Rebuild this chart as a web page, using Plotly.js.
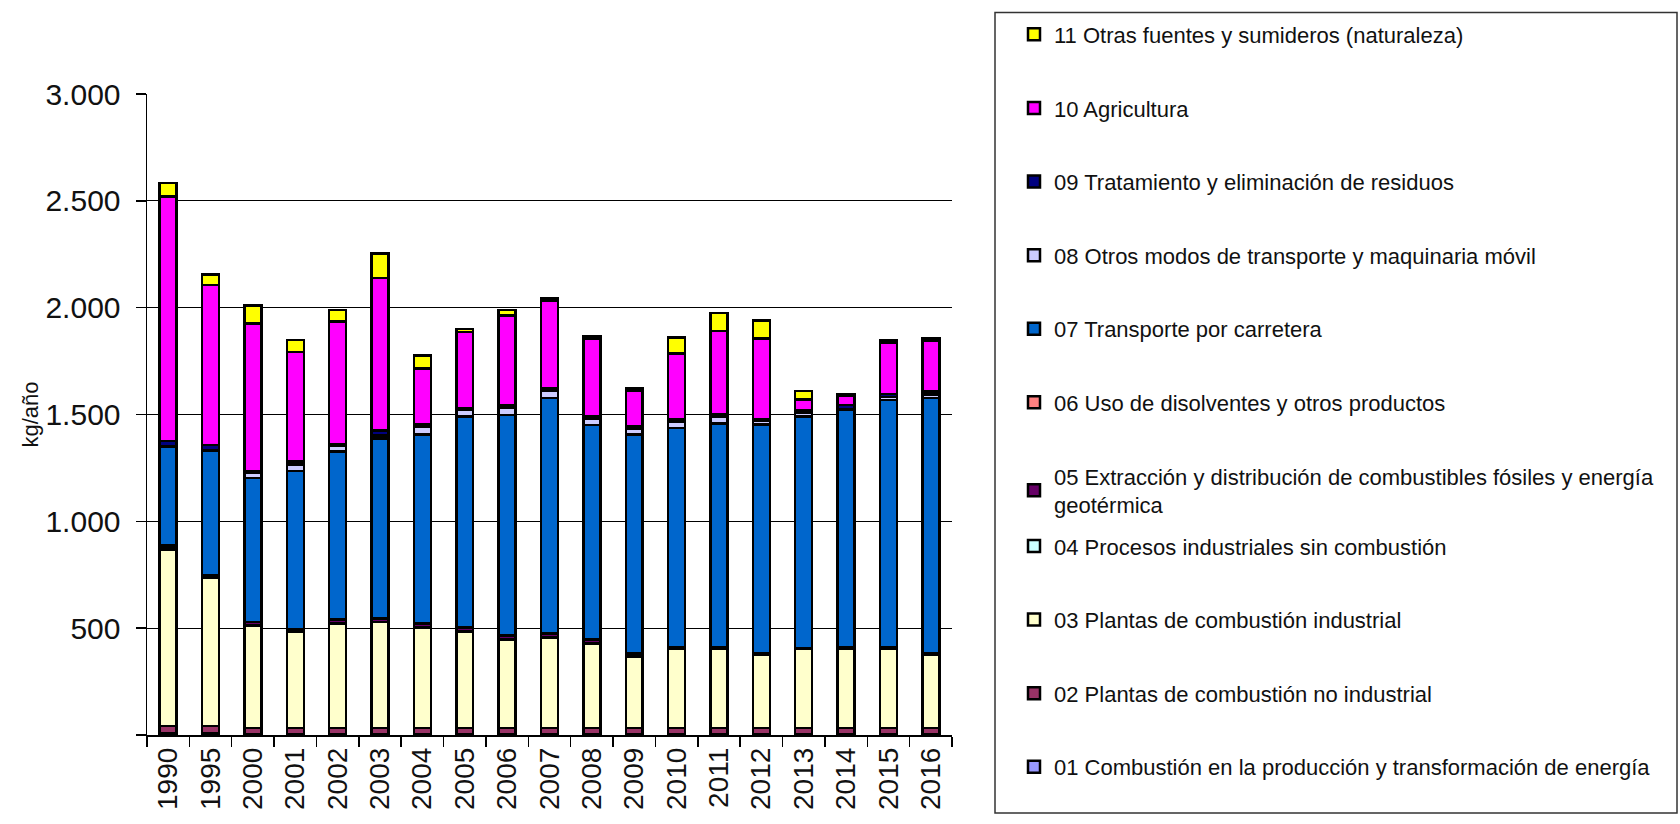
<!DOCTYPE html>
<html>
<head>
<meta charset="utf-8">
<script src="https://cdn.plot.ly/plotly-3.0.1.min.js"></script>
<style>
html,body{margin:0;padding:0;background:#fff;}
#chart{width:1680px;height:824px;}
</style>
</head>
<body>
<div id="chart"></div>
<script>
var years = ['1990','1995','2000','2001','2002','2003','2004','2005','2006','2007','2008','2009','2010','2011','2012','2013','2014','2015','2016'];

var s01 = [6,6,5,5,5,5,5,5,5,5,5,5,5,5,5,5,5,5,5];
var s02 = [35,35,27,27,27,27,27,27,27,27,27,27,27,27,27,27,27,27,27];
var s03 = [828,695,480,452,487,496,470,451,415,424,396,334,370,370,343,370,370,370,343];
var s04 = [3,2,2,2,2,2,2,2,2,2,2,2,2,2,2,1,2,2,2];
var s05 = [15,7,14,6,18,16,16,15,15,15,15,14,5,5,5,1,5,5,5];
var s06 = [2,2,2,2,2,2,2,2,2,2,2,2,2,2,2,1,2,2,2];
var s07 = [461,585,672,741,785,839,885,988,1031,1102,1003,1023,1025,1048,1070,1086,1109,1158,1193];
var s08 = [3,3,25,32,27,14,34,30,34,36,28,26,32,30,16,15,3,14,16];
var s09 = [22,22,8,12,10,24,12,11,11,12,12,10,12,11,10,13,22,14,15];
var s10 = [1145,750,692,513,572,714,262,354,421,407,366,170,306,391,376,52,41,239,237];
var s11 = [63,49,83,57,53,115,60,16,25,10,10,10,74,85,84,38,10,10,10];

var seriesNames = [
  '01 Combustión en la producción y transformación de energía',
  '02 Plantas de combustión no industrial',
  '03 Plantas de combustión industrial',
  '04 Procesos industriales sin combustión',
  '05 Extracción y distribución de combustibles fósiles y energía<br>geotérmica',
  '06 Uso de disolventes y otros productos',
  '07 Transporte por carretera',
  '08 Otros modos de transporte y maquinaria móvil',
  '09 Tratamiento y eliminación de residuos',
  '10 Agricultura',
  '11 Otras fuentes y sumideros (naturaleza)'
];
var seriesColors = ['#9999FF','#993366','#FFFFCC','#CCFFFF','#660066','#FF8080','#0066CC','#CCCCFF','#000080','#FF00FF','#FFFF00'];
var seriesValues = [s01,s02,s03,s04,s05,s06,s07,s08,s09,s10,s11];

var yTickVals = [0,500,1000,1500,2000,2500,3000];
var yTickText = ['','500','1.000','1.500','2.000','2.500','3.000'];

var FONT = 'Liberation Sans, Arial, sans-serif';

var traces = seriesValues.map(function(vals, i){
  return {
    type:'bar',
    x: years,
    y: vals,
    name: seriesNames[i],
    legend: i < 4 ? 'legend2' : 'legend',
    legendgroup: 'g'+i,
    legendrank: seriesValues.length - i,
    marker:{color: seriesColors[i], line:{color:'#000', width:2.5}},
    hoverinfo:'x+y+name'
  };
});

var L = 147, R = 952, T = 93.5, B = 735;
var W = 1680, H = 824;
function px2x(p){ return (p - L)/(R - L); }
function px2y(p){ return (B - p)/(B - T); }

function legendAt(topPx){
  return {
    x: px2x(1014), y: px2y(topPx), xanchor:'left', yanchor:'top',
    traceorder:'grouped',
    tracegroupgap: 42,
    maxheight: 820,
    font:{family:FONT, size:22, color:'#111'},
    bgcolor:'rgba(0,0,0,0)', borderwidth:0
  };
}

var layout = {
  width: W, height: H,
  margin:{l:L, r:W-R, t:T, b:H-B, autoexpand:false},
  paper_bgcolor:'#fff', plot_bgcolor:'#fff',
  barmode:'stack',
  bargap:0.6,
  font:{family:FONT, color:'#111', size:22},
  showlegend:true,
  legend: legendAt(13),
  legend2: legendAt(525),
  xaxis:{
    type:'category',
    showline:true, linecolor:'#000', linewidth:1.5,
    ticks:'outside', ticklen:10, tickcolor:'#000', tickwidth:1.5,
    tickson:'boundaries',
    tickangle:-90,
    tickfont:{family:FONT, size:28, color:'#111'},
    showgrid:false, zeroline:false, automargin:false
  },
  yaxis:{
    range:[0,3000],
    tickvals: yTickVals, ticktext: yTickText,
    showline:true, linecolor:'#000', linewidth:1.5,
    ticks:'outside', ticklen:10, tickcolor:'#000', tickwidth:1.5,
    ticklabelstandoff: 9,
    tickfont:{family:FONT, size:30, color:'#111'},
    showgrid:true, gridcolor:'#000', gridwidth:1.2,
    zeroline:false, automargin:false,
    title:{text:'kg/año', font:{family:FONT, size:22, color:'#111'}, standoff:0}
  },
  shapes:[{
    type:'rect', xref:'paper', yref:'paper',
    x0:px2x(995), x1:px2x(1677), y0:px2y(813), y1:px2y(12),
    line:{color:'#333', width:1.5}, fillcolor:'rgba(0,0,0,0)', layer:'above'
  }]
};

Plotly.newPlot('chart', traces, layout, {displayModeBar:false, staticPlot:true});
</script>
</body>
</html>
